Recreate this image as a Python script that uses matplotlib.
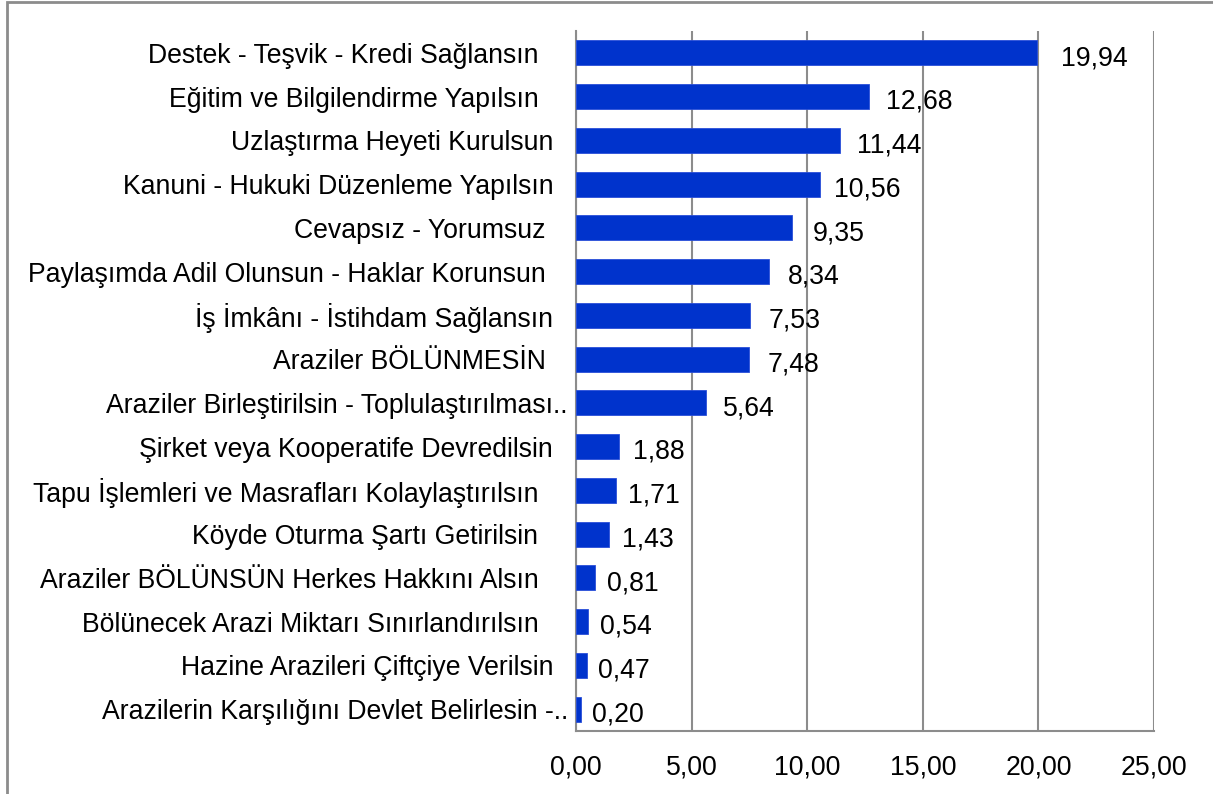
import matplotlib
matplotlib.use("Agg")
import matplotlib.pyplot as plt
from matplotlib.patches import Rectangle

plt.rcParams['font.family'] = ['Liberation Sans', 'DejaVu Sans']

categories = [
    "Destek - Teşvik - Kredi Sağlansın    ",
    "Eğitim ve Bilgilendirme Yapılsın    ",
    "Uzlaştırma Heyeti Kurulsun  ",
    "Kanuni - Hukuki Düzenleme Yapılsın  ",
    "Cevapsız - Yorumsuz   ",
    "Paylaşımda Adil Olunsun - Haklar Korunsun   ",
    "İş İmkânı - İstihdam Sağlansın  ",
    "Araziler BÖLÜNMESİN   ",
    "Araziler Birleştirilsin - Toplulaştırılması..",
    "Şirket veya Kooperatife Devredilsin  ",
    "Tapu İşlemleri ve Masrafları Kolaylaştırılsın    ",
    "Köyde Oturma Şartı Getirilsin    ",
    "Araziler BÖLÜNSÜN Herkes Hakkını Alsın    ",
    "Bölünecek Arazi Miktarı Sınırlandırılsın    ",
    "Hazine Arazileri Çiftçiye Verilsin  ",
    "Arazilerin Karşılığını Devlet Belirlesin -..",
]
values = [19.94, 12.68, 11.44, 10.56, 9.35, 8.34, 7.53, 7.48, 5.64,
          1.88, 1.71, 1.43, 0.81, 0.54, 0.47, 0.20]
xticks = [0, 5, 10, 15, 20, 25]
xtick_labels = ["0,00", "5,00", "10,00", "15,00", "20,00", "25,00"]

W, H = 1213, 794
fig = plt.figure(figsize=(W / 100, H / 100), dpi=100)
ax = fig.add_axes([576 / W, 1 - 731 / H, (1154 - 576) / W, (731 - 31) / H])

grid_c = "#8c8c8c"
fs = 19.2
n = len(values)
ypos = list(range(n))
ax.barh(ypos, values, height=0.57, color="#0033CC", edgecolor="#2a4fd8", linewidth=0.6, zorder=3)
ax.set_ylim(n - 0.5, -0.5)
ax.set_xlim(0, 25)
ax.set_xticks(xticks)
ax.set_xticklabels(xtick_labels, fontsize=fs)
ax.set_yticks(ypos)
ax.set_yticklabels(categories, fontsize=fs)
ax.tick_params(axis='x', length=0, pad=17)
ax.tick_params(axis='y', length=0, pad=5.8)
ax.grid(axis='x', color=grid_c, linewidth=1.5, zorder=0)
for s in ['top', 'right']:
    ax.spines[s].set_visible(False)
for s in ['left', 'bottom']:
    ax.spines[s].set_color(grid_c)
    ax.spines[s].set_linewidth(1.5)

for y, v in zip(ypos, values):
    ax.annotate(f"{v:.2f}".replace(".", ","), xy=(v, y), xytext=((37 + v) * 0.72, -3.8),
                textcoords="offset points", ha="center", va="center", fontsize=fs, zorder=4)

fig.patches.append(Rectangle((6.5 / W, -0.1), 1.2, 1 - 1.5 / H + 0.1, transform=fig.transFigure,
                             fill=False, edgecolor=grid_c, linewidth=2))

fig.savefig("out.png", dpi=100)
